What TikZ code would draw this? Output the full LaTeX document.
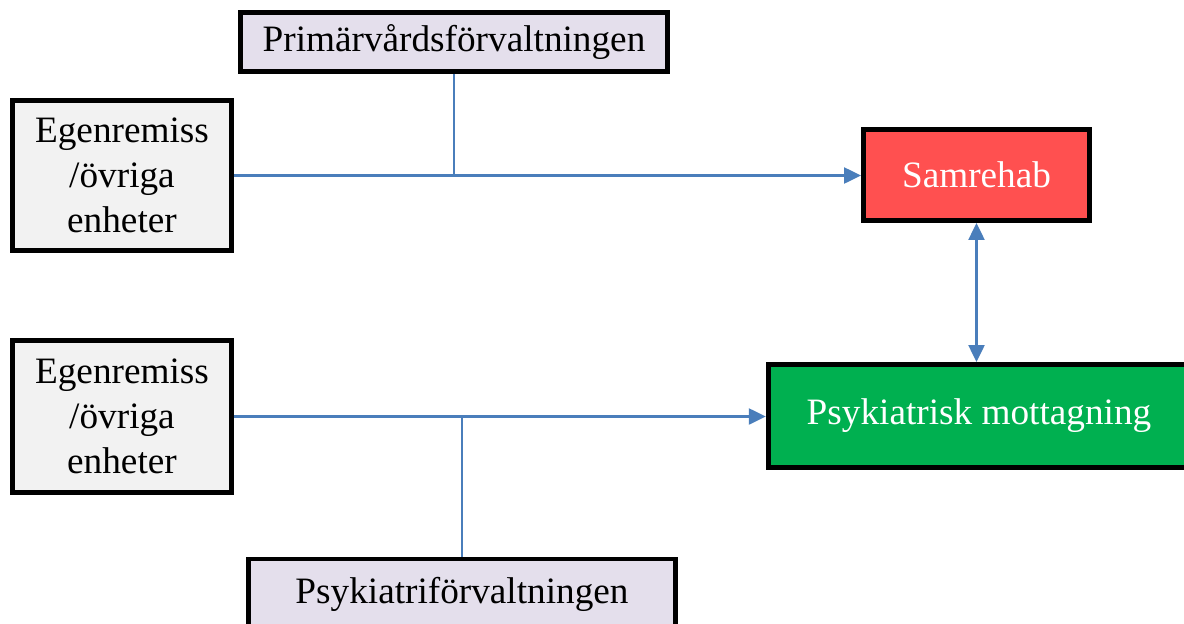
\documentclass[tikz,border=0pt]{standalone}
\usepackage{fontspec}
\setmainfont{Liberation Serif}
\usetikzlibrary{arrows.meta}
\definecolor{lineblue}{HTML}{4A7EBB}
\definecolor{lilac}{HTML}{E4DFEC}
\definecolor{lightgray}{HTML}{F2F2F2}
\definecolor{samred}{HTML}{FF5050}
\definecolor{psykgreen}{HTML}{00B050}
\tikzset{
  box/.style={draw=black, line width=2.8pt, inner sep=0pt, align=center,
    font=\fontsize{21.2}{25.5}\selectfont},
  conn/.style={lineblue, line width=1.3pt},
  tip/.style={-{Triangle[length=0.34cm,width=0.32cm]}},
}
\begin{document}
\begin{tikzpicture}[x=0.02cm, y=-0.02cm]
            \useasboundingbox (0,0) rectangle (1184,623);
            \node[box, fill=lilac, minimum width=8.54cm, minimum height=1.18cm] (prim) at (454,42) {Primärvårdsförvaltningen};
            \node[box, fill=lightgray, minimum width=4.38cm, minimum height=3cm] (egen1) at (122,175.5) {Egenremiss\\/övriga\\enheter};
            \node[box, fill=samred, text=white, minimum width=4.52cm, minimum height=1.82cm] (samrehab) at (976.5,175) {Samrehab};
            \node[box, fill=lightgray, minimum width=4.38cm, minimum height=3.04cm] (egen2) at (122,416.5) {Egenremiss\\/övriga\\enheter};
            \node[box, fill=psykgreen, text=white, minimum width=8.43cm, minimum height=2.06cm] (psyk) at (979,416) {Psykiatrisk mottagning};
            \node[box, fill=lilac, minimum width=8.54cm, minimum height=1.4cm] (psykforv) at (462,594) {Psykiatriförvaltningen};
            % primary care branch
            \draw[conn, tip] (egen1.east) -- (egen1.east -| samrehab.west);
            \draw[conn] (prim.south) -- (prim.south |- egen1.east);
            % psychiatry branch
            \draw[conn, tip] (egen2.east) -- (egen2.east -| psyk.west);
            \draw[conn] (psykforv.north) -- (psykforv.north |- egen2.east);
            \draw[conn, {Triangle[length=0.34cm,width=0.32cm]}-{Triangle[length=0.34cm,width=0.32cm]}] (samrehab.south) -- (samrehab.south |- psyk.north);
        \end{tikzpicture}
\end{document}
